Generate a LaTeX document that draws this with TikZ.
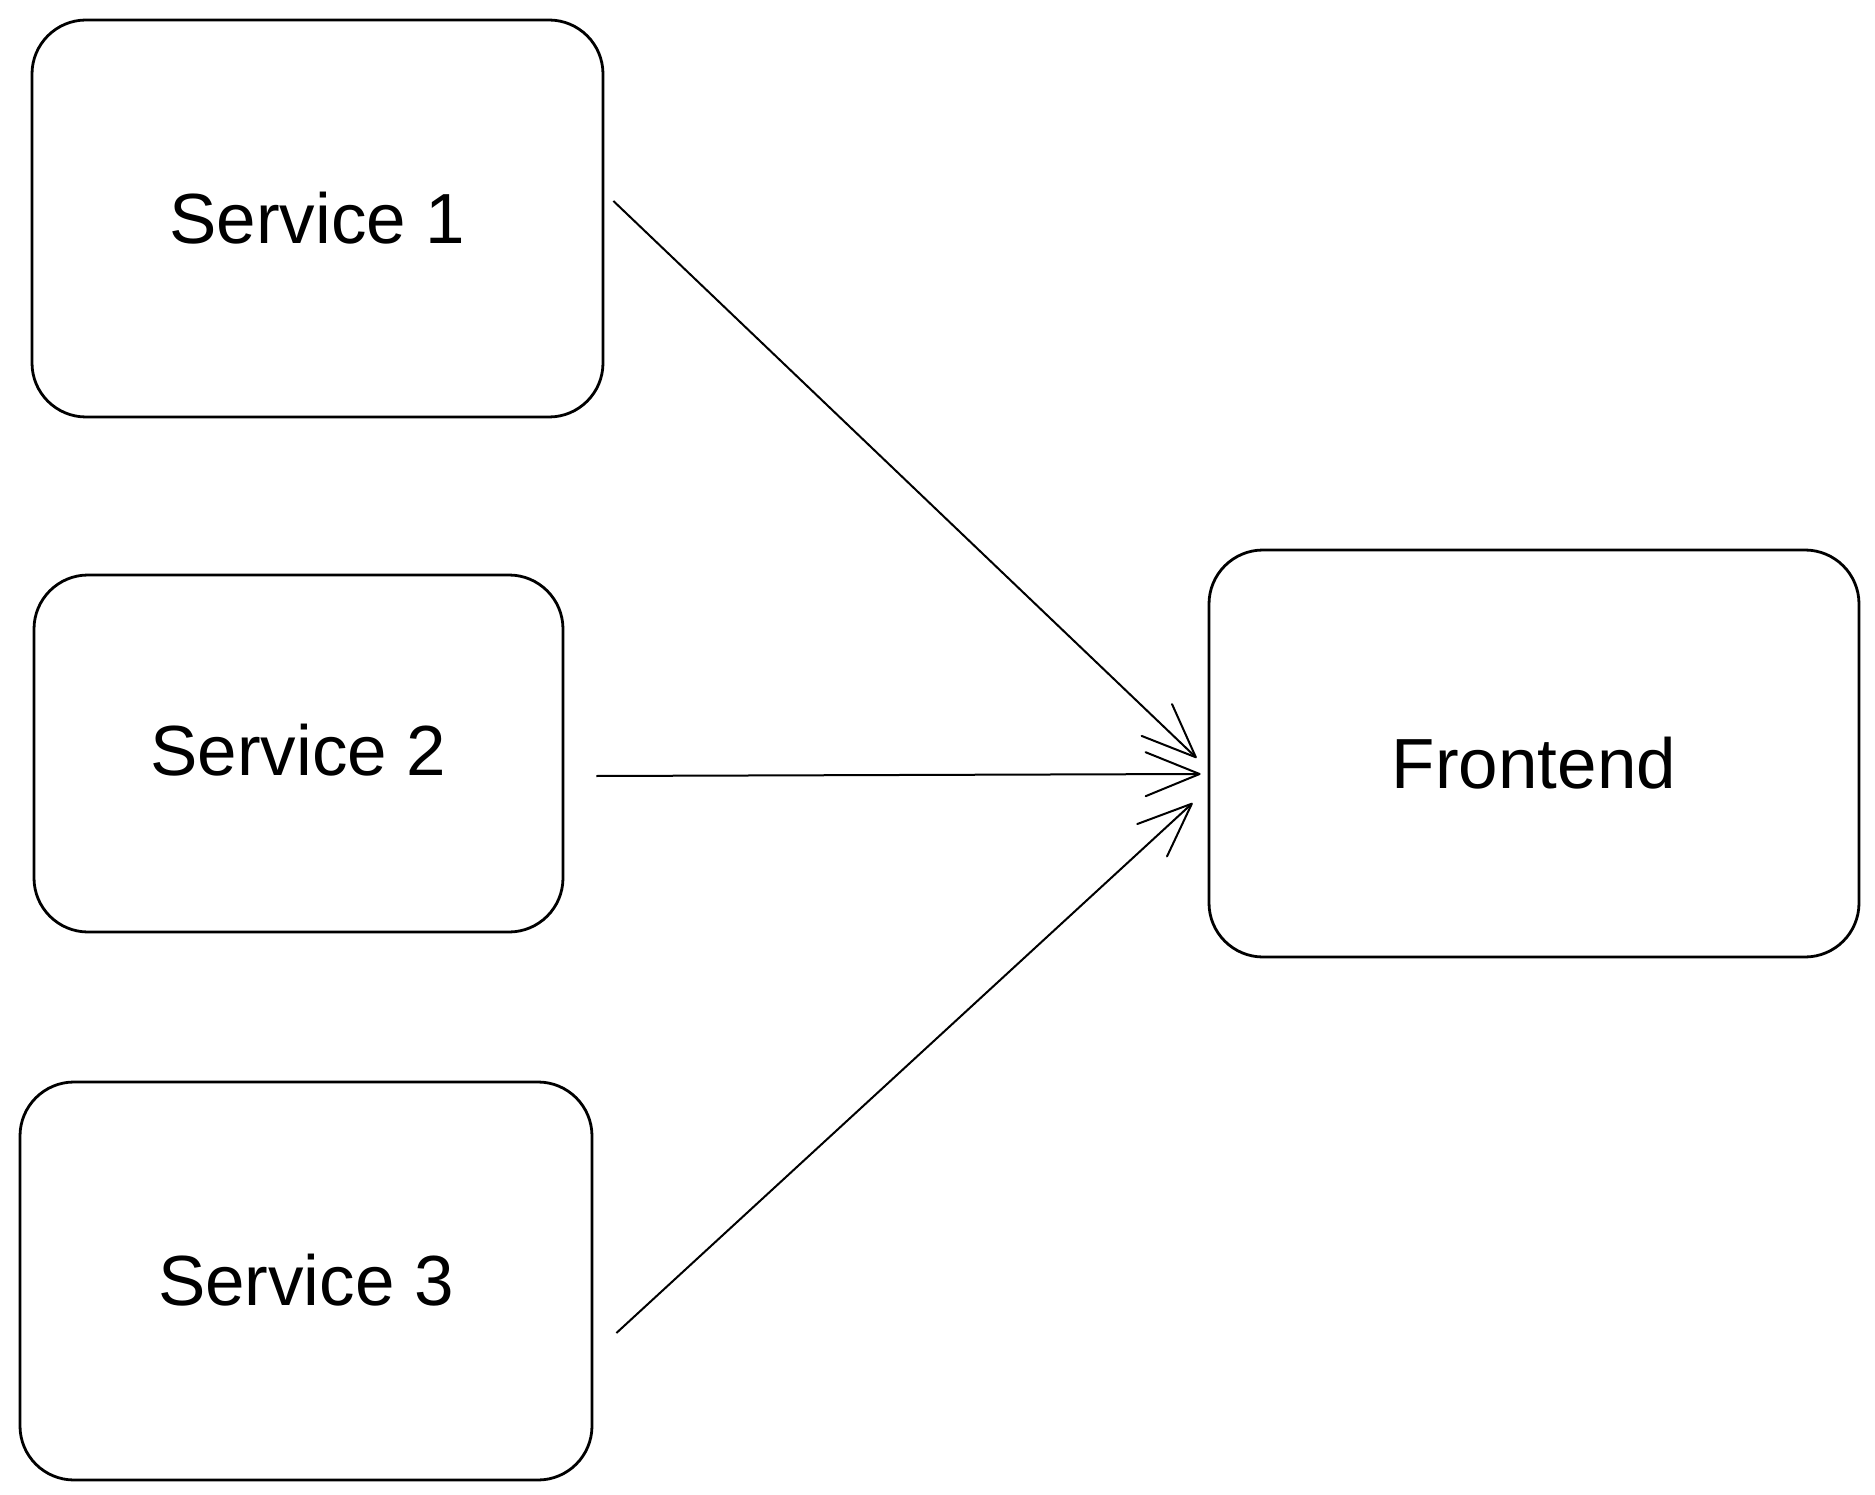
\documentclass[tikz,border=0pt]{standalone}
\usepackage{fontspec}
\setmainfont{Liberation Sans}
\usetikzlibrary{arrows.meta}
\newcommand{\vmove}[2]{\raisebox{#1}[\height][\depth]{#2}}
\begin{document}
\begin{tikzpicture}[x=1pt,y=-1pt,
  box/.style={draw=black,line width=2.8pt,rounded corners=54pt,inner sep=0pt,
    font=\fontsize{71}{85}\selectfont},
  conn/.style={draw=black,line width=2pt,
    -{Straight Barb[length=54pt,width=44pt,round]}}]
\useasboundingbox (0,0) rectangle (1875,1495);
\node[box,minimum width=571pt,minimum height=397pt] (s1) at (317.5,218.5) {Service 1};
\node[box,minimum width=529pt,minimum height=357pt] (s2) at (298.5,753.5) {\vmove{3pt}{Service 2}};
\node[box,minimum width=572pt,minimum height=398pt] (s3) at (306,1281) {\vmove{1pt}{Service 3}};
\node[box,minimum width=650pt,minimum height=407pt] (fe) at (1534,753.5) {\vmove{-10pt}{Frontend}};
\draw[conn] ([shift={(9,-17.5)}]s1.east) -- ([shift={(-11,4.5)}]fe.west);
\draw[conn] ([shift={(32,22.5)}]s2.east) -- ([shift={(-7,20.5)}]fe.west);
\draw[conn] ([shift={(23,52)}]s3.east) -- ([shift={(-15,49.5)}]fe.west);
\end{tikzpicture}
\end{document}
